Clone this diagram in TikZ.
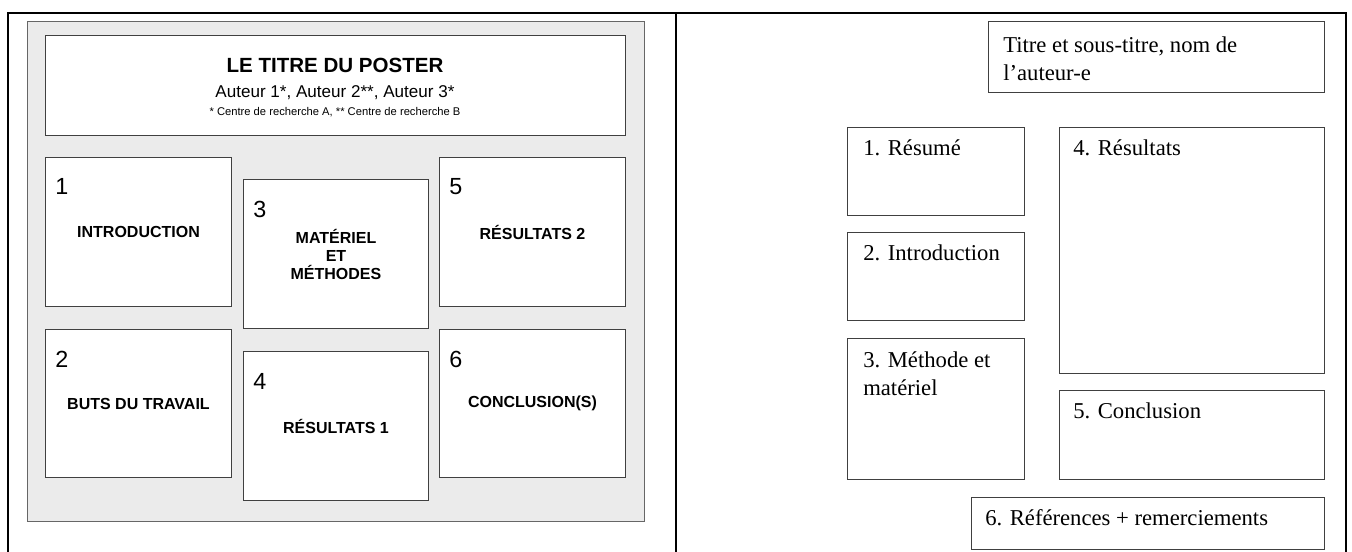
\documentclass[tikz,border=0pt]{standalone}
\usepackage{fontspec}
\setmainfont{Liberation Serif}
\setsansfont{Liberation Sans}
\definecolor{panelgray}{HTML}{EBEBEB}
\begin{document}
\begin{tikzpicture}[x=0.75pt,y=-0.75pt,
  frame/.style={line width=1.5pt},
  area/.style 2 args={draw=black!75,line width=0.75pt,fill=white,anchor=north west,
    inner sep=0pt,minimum width=#1*0.75pt,minimum height=#2*0.75pt},
  ttl/.style={font=\sffamily\bfseries\fontsize{15.4}{17}\selectfont,anchor=base,inner sep=0pt},
  sub/.style={font=\sffamily\fontsize{12.8}{14}\selectfont,anchor=base,inner sep=0pt},
  aff/.style={font=\sffamily\fontsize{8.4}{10}\selectfont,anchor=base,inner sep=0pt},
  num/.style={font=\sffamily\fontsize{17.5}{19}\selectfont,anchor=north west,inner sep=0pt},
  lab/.style={font=\sffamily\bfseries\fontsize{12}{13.5}\selectfont,align=center,inner sep=0pt},
  txt/.style={font=\fontsize{17}{21}\selectfont,align=left,anchor=base west,inner sep=0pt}]
\useasboundingbox (0,0) rectangle (1352,551);
% Table frame
\coordinate (top-left) at (8,13);
\coordinate (top-mid) at (676,13);
\coordinate (top-right) at (1346,13);
\draw[frame] (top-left |- 0,560) -- (top-left) -- (top-right) -- (top-right |- 0,560);
\draw[frame] (top-mid) -- (top-mid |- 0,560);
% Left: model poster
\node[area={617}{500},fill=panelgray,draw=black!60] (poster) at (27,21) {};
\node[area={580}{100}] (head) at (45,35) {};
\node[ttl] (head-title) at (335,72) {LE TITRE DU POSTER};
\node[sub] (head-auth) at (335,97) {Auteur 1*, Auteur 2**, Auteur 3*};
\node[aff] (head-aff) at (335,115) {* Centre de recherche A, ** Centre de recherche B};
\node[area={186}{149}] (intro) at (45,157) {};
\node[num] (intro-n) at ([shift={(10,21)}]intro.north west) {1};
\node[lab] (intro-t) at (intro) {INTRODUCTION};
\node[area={185}{149}] (meth) at (243,179) {};
\node[num] (meth-n) at ([shift={(10,22)}]meth.north west) {3};
\node[lab] (meth-t) at (meth) {MATÉRIEL\\ET\\MÉTHODES};
\node[area={186}{149}] (res2) at (439,157) {};
\node[num] (res2-n) at ([shift={(10,21)}]res2.north west) {5};
\node[lab] (res2-t) at (res2) {RÉSULTATS 2};
\node[area={186}{148}] (aims) at (45,329) {};
\node[num] (aims-n) at ([shift={(10,22)}]aims.north west) {2};
\node[lab] (aims-t) at (aims) {BUTS DU TRAVAIL};
\node[area={185}{149}] (res1) at (243,351) {};
\node[num] (res1-n) at ([shift={(10,22)}]res1.north west) {4};
\node[lab] (res1-t) at (res1) {RÉSULTATS 1};
\node[area={186}{148}] (concl) at (439,329) {};
\node[num] (concl-n) at ([shift={(10,22)}]concl.north west) {6};
\node[lab] (concl-t) at (concl) {CONCLUSION(S)};
% Right: suggested layout
% (base of a two-line text is its second line)
\node[area={336}{71}] (rtitle) at (988,21) {};
\node[txt] (rtitle-t) at ([shift={(15,59)}]rtitle.north west) {Titre et sous-titre, nom de\\l’auteur-e};
\node[area={177}{88}] (summ) at (847,127) {};
\node[txt] (summ-t) at ([shift={(16,28)}]summ.north west) {1. Résumé};
\node[area={177}{88}] (rintro) at (847,232) {};
\node[txt] (rintro-t) at ([shift={(16,28)}]rintro.north west) {2. Introduction};
\node[area={177}{141}] (rmeth) at (847,338) {};
\node[txt] (rmeth-t) at ([shift={(16,57)}]rmeth.north west) {3. Méthode et\\matériel};
\node[area={265}{246}] (rres) at (1059,127) {};
\node[txt] (rres-t) at ([shift={(14,28)}]rres.north west) {4. Résultats};
\node[area={265}{89}] (rconcl) at (1059,390) {};
\node[txt] (rconcl-t) at ([shift={(14,28)}]rconcl.north west) {5. Conclusion};
\node[area={353}{52}] (refs) at (971,497) {};
\node[txt] (refs-t) at ([shift={(14,28)}]refs.north west) {6. Références + remerciements};
\end{tikzpicture}
\end{document}
